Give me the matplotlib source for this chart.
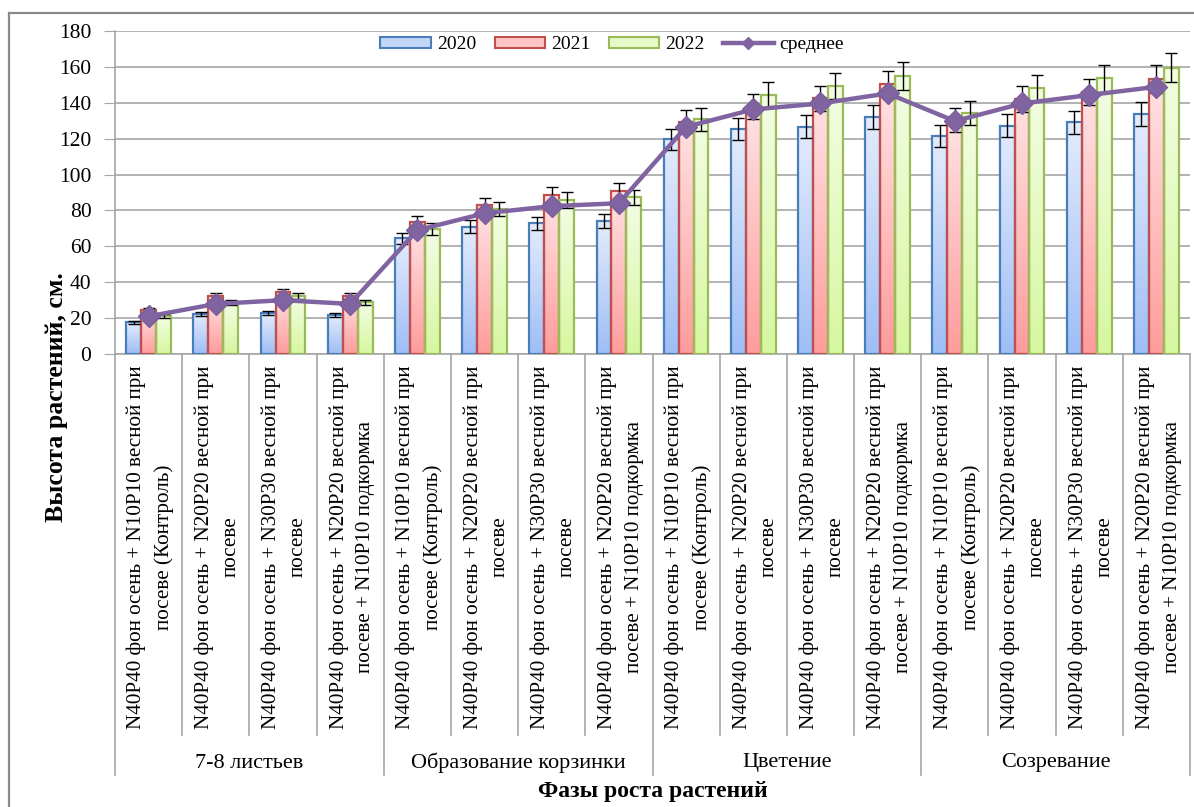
import numpy as np
import matplotlib
matplotlib.use("Agg")
import matplotlib.pyplot as plt
from matplotlib.lines import Line2D
from matplotlib.patches import Patch
from matplotlib.colors import to_rgb
import matplotlib.transforms as mtransforms

plt.rcParams['font.family'] = ['Liberation Serif', 'DejaVu Serif']

# --- data -------------------------------------------------------------
treatments = [
    "N40P40 фон осень + N10P10 весной при\nпосеве (Контроль)",
    "N40P40 фон осень + N20P20 весной при\nпосеве",
    "N40P40 фон осень + N30P30 весной при\nпосеве",
    "N40P40 фон осень + N20P20 весной при\nпосеве + N10P10 подкормка",
]
phases = ["7-8 листьев", "Образование корзинки", "Цветение", "Созревание"]
categories = [t for _ in phases for t in treatments]

h2020 = [17.7, 22.3, 22.7, 21.7, 64.4, 70.9, 72.8, 74.1,
         119.6, 125.3, 126.6, 131.9, 121.4, 127.2, 129.1, 133.5]
h2021 = [24.5, 32.3, 34.7, 32.3, 73.4, 83.0, 88.6, 91.0,
         129.4, 137.8, 142.4, 150.4, 130.4, 142.0, 146.1, 153.2]
h2022 = [21.0, 28.5, 32.5, 28.8, 69.6, 80.8, 85.8, 87.3,
         130.7, 144.3, 149.3, 155.0, 134.4, 148.0, 153.6, 159.5]
h_mean = [21.0, 27.9, 30.0, 27.9, 69.0, 78.4, 82.4, 84.0,
          126.6, 136.3, 139.6, 145.2, 129.8, 139.6, 144.3, 148.9]
err_pct = 0.05  # percentage error bars

series = [
    ("2020", h2020, "#e4ecfb", "#9ebef6", "#4a7ebb"),
    ("2021", h2021, "#ffe3e3", "#ff9c9c", "#c0504d"),
    ("2022", h2022, "#f3fde4", "#d6f7a0", "#9bbb59"),
]

# --- figure -----------------------------------------------------------
W, H = 1194, 807
fig = plt.figure(figsize=(W / 100, H / 100), dpi=100)
ax_l, ax_r, ax_t, ax_b = 115, 1190, 31, 354
ax = fig.add_axes([ax_l / W, 1 - ax_b / H, (ax_r - ax_l) / W, (ax_b - ax_t) / H])

n = len(categories)
x = np.arange(n)
bw = 1 / 4.5
grid_c = "#a6a6a6"

ax.set_xlim(-0.5, n - 0.5)
ax.set_ylim(0, 180)
ax.set_autoscale_on(False)

ramp = np.linspace(0, 1, 256).reshape(-1, 1, 1)
for k, (name, vals, top_c, bot_c, edge_c) in enumerate(series):
    xs = x + (k - 1) * bw
    grad = np.array(to_rgb(bot_c)) * (1 - ramp) + np.array(to_rgb(top_c)) * ramp
    for xi, v in zip(xs, vals):
        ax.imshow(grad, extent=[xi - bw / 2, xi + bw / 2, 0, v], origin="lower",
                  aspect="auto", interpolation="bilinear", zorder=2)
    ax.bar(xs, vals, bw, fill=False, edgecolor=edge_c, linewidth=1.6, zorder=3)
    ax.errorbar(xs, vals, yerr=np.array(vals) * err_pct, fmt="none",
                ecolor="black", elinewidth=1.0, capsize=4, capthick=1.0, zorder=4)

ax.plot(x, h_mean, color="#8064a2", linewidth=3.2, marker="D", markersize=11,
        markeredgecolor="#7a5e9c", zorder=5)

ax.set_xlim(-0.5, n - 0.5)
ax.set_ylim(0, 180)

# axes styling
ax.set_yticks(np.arange(0, 181, 20))
ax.tick_params(axis="y", direction="out", length=8, color=grid_c, labelsize=15.5, pad=9)
ax.set_xticks([])
ax.grid(axis="y", color=grid_c, linewidth=1.2, zorder=0)
ax.set_axisbelow(True)
for s in ("top", "right"):
    ax.spines[s].set_visible(False)
for s in ("left", "bottom"):
    ax.spines[s].set_color(grid_c)
    ax.spines[s].set_linewidth(1.2)

# multi-level category axis
px = ax_b - ax_t
def ay(ypix):
    return (ax_b - ypix) / px

trans = mtransforms.blended_transform_factory(ax.transData, ax.transAxes)
for b in np.arange(-0.5, n, 1.0):
    is_group = (b + 0.5) % 4 == 0
    y_end = ay(775) if is_group else ay(735)
    ax.add_line(Line2D([b, b], [0, y_end], transform=trans, color=grid_c,
                       linewidth=1.2, clip_on=False))

for xi, lab in zip(x, categories):
    ax.text(xi + 0.03, ay(547), lab, transform=trans, rotation=90, ha="center",
            va="center", multialignment="center", fontsize=15.2, linespacing=1.55)

for g, ph in enumerate(phases):
    ax.text(g * 4 + 1.5, ay(763), ph, transform=trans, ha="center", va="center",
            fontsize=16)

ax.text(0.5, ay(792), "Фазы роста растений", transform=ax.transAxes, ha="center",
        va="center", fontsize=17, fontweight="bold")
fig.text(56 / W, 1 - 397 / H, "Высота растений, см.", rotation=90, ha="center",
         va="center", fontsize=18.5, fontweight="bold")

# legend
handles = [Patch(facecolor="#c3d6f8", edgecolor="#4a7ebb", linewidth=1.5),
           Patch(facecolor="#ffc4c4", edgecolor="#c0504d", linewidth=1.5),
           Patch(facecolor="#e6fac8", edgecolor="#9bbb59", linewidth=1.5),
           Line2D([], [], color="#8064a2", linewidth=3.2, marker="D", markersize=6)]
labels = ["2020", "2021", "2022", "среднее"]
ax.legend(handles, labels, loc="center", bbox_to_anchor=(0.4625, 0.957), ncol=4,
          frameon=False, fontsize=14, handlelength=2.6, handleheight=0.55,
          handletextpad=0.3, columnspacing=0.95)

# outer chart frame (left and top edges)
frame_c = "#8a8a8a"
fig.add_artist(Line2D([9 / W, 9 / W], [0, 1 - 13 / H], color=frame_c, linewidth=1.6,
                      transform=fig.transFigure))
fig.add_artist(Line2D([9 / W, 1], [1 - 13 / H, 1 - 13 / H], color=frame_c,
                      linewidth=1.6, transform=fig.transFigure))

fig.savefig("out.png", dpi=100)
